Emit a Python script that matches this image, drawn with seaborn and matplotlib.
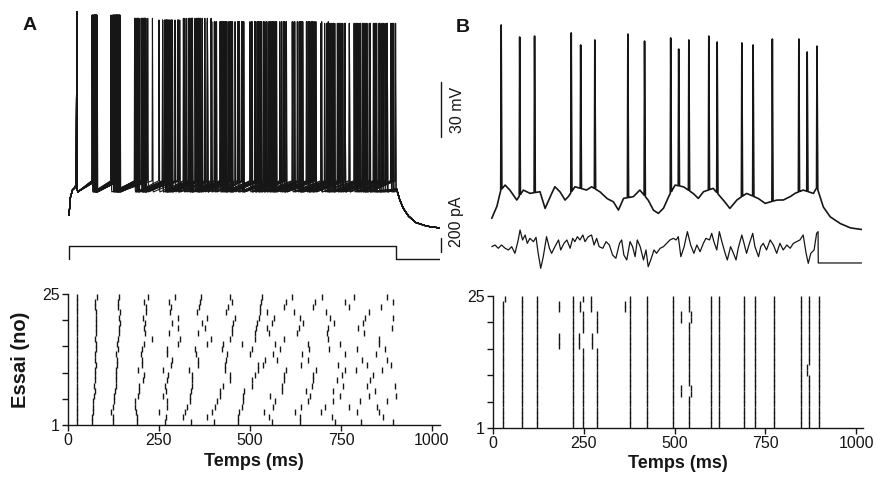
import numpy as np
import pandas as pd
import matplotlib
matplotlib.use("Agg")
import matplotlib.pyplot as plt
import seaborn as sns

sns.set_theme(style="ticks")
plt.rcParams["font.family"] = ["Liberation Sans", "DejaVu Sans"]

INK = "#161616"

# ---------------------------------------------------------------- data
# Panel A: constant current step, 25 trials. Spike times (ms) of the
# early firing columns, one value per trial (trial 1 .. 25).
a_col1 = [24, 24, 24, 24, 24, 24, 24, 24, 24, 24, 24, 24, 24, 24, 24, 24, 24, 24, 24, 24, 24, 24, 24, 24, 24]
a_col2 = [67, 66, 68, 69, 70, 72, 73, 72, 74, 75, 74, 76, 73, 75, 77, 76, 74, 77, 78, 76, 77, 78, 75, 75, 80]
a_col3 = [123, 124, 118, 125, 127, 127, 128, 131, 132, 133, 131, 134, 135, 133, 136, 134, 137, 140, 141, 142, 139, 143, 137, 138, 141]
a_col4 = [189, 190, 186, 183, 185, 192, 195, 194, 205, 208, 192, 202, 204, 201, 203, 210, 232, 212, 210, 212, 207, 214, 213, 210, 219]
a_col5 = [266, 269, 250, 271, 272, 260, 269, 266, 272, 275, 260, 284, 285, 271, 272, 303, 307, 277, 301, 287, 303, 280, 283, 278, 294]
a_col6 = [338, 317, 321, 326, 335, 334, 339, 340, 341, 342, 332, 358, 357, 353, 349, 383, 393, 358, 376, 369, 383, 355, 361, 363, 365]
a_col7 = [402, 383, 395, 404, 408, 418, 418, 425, 445, 445, 431, 431, 434, 436, 422, 427, 446, 450, 450, 452, 459, 433, 440, 450, 445]
a_col8 = [466, 468, 471, 478, 481, 481, 483, 505, 505, 514, 523, 522, 541, 500, 505, 477, 513, 514, 516, 520, 524, 527, 528, 530, 532]

# Later spikes of each trial (trial 1 .. 25), where the columns dissolve
a_late = [
    [561, 638, 733, 804, 894],
    [553, 637, 724, 866],
    [538, 623, 695, 793, 855],
    [564, 641, 705, 773, 848],
    [569, 660, 729, 802, 877],
    [556, 665, 747, 828, 900],
    [587, 655, 728, 843],
    [587, 669, 755, 821, 899],
    [593, 673, 740, 830],
    [593, 673, 752, 839],
    [600, 681, 761, 791, 864],
    [537, 641, 742, 821, 887],
    [573, 660, 809, 876],
    [564, 644, 761, 846],
    [582, 663, 718, 795, 871],
    [569, 660, 747, 855],
    [594, 715, 855],
    [552, 630, 712, 813],
    [546, 635, 715, 798, 889],
    [560, 645, 730, 810],
    [566, 638, 721, 816, 893],
    [546, 621, 710, 828],
    [594, 672, 773, 860],
    [599, 678, 761, 892],
    [616, 697, 786, 877],
]

# Spike peak (mV) by order of the spike in a trial
a_peak_mv = [48.9, 47.1, 47.1, 45.3, 44.4, 45.3, 43.5, 43.5, 43.5, 43.5, 42.6, 42.6, 42.6, 43.5]
# Membrane potential at step onset and after the step (ms, mV)
a_onset_t = [3, 6, 12, 20]
a_onset_mv = [-61.0, -52.0, -47.5, -46.0]
a_decay_t = [903, 910, 920, 935, 955, 985, 1022]
a_decay_mv = [-47.0, -52.0, -57.0, -61.5, -65.0, -67.0, -68.0]
a_threshold_mv = -42.5
a_ahp_mv = -48.5

# Current step (ms, pA)
step_t = [3, 3, 900, 900, 1022]
step_pa = [0, 190, 190, 0, 0]

# Panel B: fluctuating current, 25 trials. Spike columns (ms)
b_spike_cols = [28, 79, 120, 221, 247, 286, 377, 423, 495, 541, 600, 623, 691, 722, 775, 848, 871, 898]
# Trials in which a column spike is displaced
b_shift_trial = [16, 17, 18, 16, 17, 18, 23, 24, 23, 24, 25, 25, 7, 8, 21, 22, 11, 12]
b_shift_from = [247, 247, 247, 286, 286, 286, 247, 247, 286, 286, 28, 286, 541, 541, 541, 541, 871, 871]
b_shift_to = [238, 238, 238, 272, 272, 272, 240, 240, 270, 270, 33, 270, 545, 545, 545, 545, 864, 864]
# Additional spikes (trial, ms)
b_extra_trial = [16, 17, 18, 23, 24, 23, 24, 7, 8, 21, 22]
b_extra_time = [182, 182, 182, 182, 182, 364, 364, 517, 517, 517, 517]

# Voltage trace shown for one trial of panel B
b_trace_trial = 22
b_peak_mv = [41.7, 35.2, 35.7, 37.4, 30.9, 33.6, 36.8, 33.0, 34.7, 28.7,
             33.6, 35.7, 32.5, 32.0, 30.9, 34.1, 34.1, 27.1, 30.3]
b_base_t = [2, 16, 27, 39, 52, 71, 89, 107, 135, 149, 163, 176, 190, 204, 213, 231,
            263, 277, 300, 319, 337, 351, 365, 392, 410, 433, 447, 461, 475, 489,
            507, 530, 557, 571, 585, 612, 640, 658, 677, 704, 736, 755, 787, 805,
            824, 837, 860, 888, 898, 915, 934, 961, 989, 1021]
b_base_mv = [-62.8, -56.5, -47.5, -44.8, -47.5, -52.9, -47.5, -49.3, -48.4, -57.4,
             -51.1, -45.7, -48.4, -52.9, -51.1, -45.7, -47.5, -45.7, -48.4, -52.0,
             -53.8, -58.3, -52.0, -51.1, -47.5, -52.9, -58.3, -60.1, -57.4, -51.1,
             -44.8, -45.7, -49.3, -52.0, -48.4, -46.6, -52.9, -57.4, -52.9, -49.3,
             -52.0, -54.7, -52.9, -52.9, -51.1, -49.3, -47.5, -49.3, -46.0, -56.5,
             -61.9, -65.5, -67.9, -68.8]

# Injected fluctuating current (ms, pA)
b_noise_t = [2, 11, 20, 29, 39, 48, 57, 66, 75, 80, 87, 94, 100, 107, 117, 124, 130,
             137, 144, 153, 161, 167, 176, 186, 192, 201, 209, 218, 225, 231, 238,
             245, 253, 259, 268, 277, 284, 291, 298, 308, 317, 326, 335, 344, 354,
             360, 366, 374, 383, 390, 397, 403, 411, 420, 427, 433, 440, 449, 456,
             466, 475, 484, 493, 502, 510, 516, 523, 532, 541, 550, 559, 567, 576,
             585, 592, 602, 608, 614, 622, 629, 636, 645, 651, 660, 668, 675, 681,
             691, 697, 704, 712, 721, 727, 737, 743, 750, 759, 769, 778, 787, 796,
             805, 815, 824, 833, 842, 851, 860, 868, 874, 881, 890, 897, 901, 901.5, 1021]
b_noise_pa = [233, 257, 210, 257, 210, 186, 233, 138, 329, 472, 329, 400, 281, 352, 305,
              367, 138, -76, 90, 376, 210, 138, 233, 329, 186, 281, 329, 210, 352, 305,
              376, 329, 400, 305, 376, 400, 257, 352, 233, 210, 305, 257, 114, 67, 281,
              329, 114, 43, 305, 233, 90, 329, 233, 43, 186, -53, 43, 186, 138, 210,
              233, 281, 329, 352, 329, 376, 90, 233, 448, 257, 138, 257, 162, 281, 352,
              329, 424, 305, 186, 448, 305, 138, 43, 233, 138, 43, 210, 400, 281, 138,
              281, 424, 233, 90, 233, 281, 186, 329, 257, 138, 281, 186, 257, 210, 281,
              305, 329, 400, 138, -5, 138, 186, 424, 448, 0, 0]

N_TRIALS = 25
X_TICKS = [0, 250, 500, 750, 1000]


# ---------------------------------------------------------------- helpers
def rect(left, top, right, bottom, W=877, H=483):
    return [left / W, 1 - bottom / H, (right - left) / W, (bottom - top) / H]


def add_spikes(t, base, spikes, peaks, rise=1.0, fall=1.5):
    out = base.copy()
    for s, p in zip(spikes, peaks):
        dt = t - s
        rel = np.where(dt < 0, -dt / rise, dt / fall)
        tent = base + (p - base) * np.clip(1 - rel, 0, None)
        out = np.maximum(out, tent)
    return out


def row_center(trial):
    # trial rows stacked between 1 and 25 on the y axis
    return 1 + (np.asarray(trial) - 0.5) * (24 / N_TRIALS)


# spike trains, panel A
early_cols = [a_col1, a_col2, a_col3, a_col4, a_col5, a_col6, a_col7, a_col8]
trains_a = [sorted([c[k] for c in early_cols] + a_late[k]) for k in range(N_TRIALS)]

# spike trains, panel B
trains_b = []
for k in range(1, N_TRIALS + 1):
    spikes = list(b_spike_cols)
    for tr, a, b in zip(b_shift_trial, b_shift_from, b_shift_to):
        if tr == k:
            spikes[spikes.index(a)] = b
    spikes += [e for tr, e in zip(b_extra_trial, b_extra_time) if tr == k]
    trains_b.append(sorted(spikes))

# ---------------------------------------------------------------- figure
fig = plt.figure(figsize=(8.77, 4.83), dpi=100)
fig.patch.set_facecolor("white")

ax_va = fig.add_axes(rect(68, 5, 440, 233))
ax_ia = fig.add_axes(rect(68, 228, 440, 272))
ax_vb = fig.add_axes(rect(491, 5, 862, 233))
ax_ib = fig.add_axes(rect(491, 228, 862, 272))
ax_ra = fig.add_axes(rect(68, 294, 440, 425))
ax_rb = fig.add_axes(rect(493, 296, 863, 428))

# --- A: 25 superimposed voltage traces
t_grid = np.arange(3, 1022.01, 0.25)
rows = []
for k, spikes in enumerate(trains_a):
    kt = list(a_onset_t)
    kv = list(a_onset_mv)
    for s in spikes:
        kt += [s - 1.0, s + 2.5]
        kv += [a_threshold_mv, a_ahp_mv]
    kt += a_decay_t
    kv += a_decay_mv
    order = np.argsort(kt, kind="stable")
    base = np.interp(t_grid, np.array(kt)[order], np.array(kv)[order])
    peaks = [a_peak_mv[min(i, len(a_peak_mv) - 1)] for i in range(len(spikes))]
    v = add_spikes(t_grid, base, spikes, peaks)
    rows.append(pd.DataFrame({"t": t_grid, "v": v, "trial": k + 1}))
df_va = pd.concat(rows, ignore_index=True)
sns.lineplot(data=df_va, x="t", y="v", units="trial", estimator=None, sort=False,
             color=INK, linewidth=0.8, ax=ax_va, legend=False)
ax_va.set_xlim(0, 1022)
ax_va.set_ylim(-70.7, 52.5)

# --- A: current step
sns.lineplot(x=step_t, y=step_pa, estimator=None, sort=False, color=INK,
             linewidth=1.0, ax=ax_ia)
ax_ia.set_xlim(0, 1022)
ax_ia.set_ylim(-186, 443)

# --- B: voltage trace of one trial
tb = np.arange(2, 1021.01, 0.25)
base_b = np.interp(tb, b_base_t, b_base_mv)
vb = add_spikes(tb, base_b, trains_b[b_trace_trial - 1], b_peak_mv, rise=1.2, fall=2.0)
sns.lineplot(x=tb, y=vb, estimator=None, sort=False, color=INK, linewidth=1.2, ax=ax_vb)
ax_vb.set_xlim(0, 1022)
ax_vb.set_ylim(-70.7, 52.5)

# --- B: fluctuating current
sns.lineplot(x=b_noise_t, y=b_noise_pa, estimator=None, sort=False, color=INK,
             linewidth=0.9, ax=ax_ib)
ax_ib.set_xlim(0, 1022)
ax_ib.set_ylim(-129, 500)

for ax in (ax_va, ax_ia, ax_vb, ax_ib):
    ax.set_axis_off()
    ax.patch.set_alpha(0)

# --- scale bars (30 mV, 200 pA)
x_bar = -137.7
ax_vb.plot([x_bar, x_bar], [-19, 11], color=INK, lw=1.0, clip_on=False)
ax_ib.plot([x_bar, x_bar], [157, 357], color=INK, lw=1.0, clip_on=False)

# --- rasters
def raster(ax, trains, xmax):
    df = pd.DataFrame([(s, row_center(k + 1)) for k, tr in enumerate(trains) for s in tr],
                      columns=["t", "row"])
    sns.scatterplot(data=df, x="t", y="row", marker="|", s=15, linewidth=1.0,
                    color=INK, ax=ax, legend=False, clip_on=False)
    ax.set_xlim(0, xmax)
    ax.set_ylim(1, 25)
    ax.set_xticks(X_TICKS)
    ax.set_xticklabels([str(x) for x in X_TICKS])
    ax.set_yticks(np.linspace(1, 25, 6))
    ax.set_yticklabels(["1", "", "", "", "", "25"])
    for side in ("top", "right"):
        ax.spines[side].set_visible(False)
    for side in ("left", "bottom"):
        ax.spines[side].set_color(INK)
        ax.spines[side].set_linewidth(1.0)
    ax.tick_params(axis="both", direction="out", length=4, width=1.0, colors=INK,
                   labelsize=11.5, pad=2, bottom=True, left=True)
    ax.set_xlabel("Temps (ms)", fontsize=13, fontweight="bold", color=INK, labelpad=3)
    ax.set_ylabel("")
    ax.patch.set_alpha(0)


raster(ax_ra, trains_a, 1022)
raster(ax_rb, trains_b, 1019)
ax_ra.set_ylabel("Essai (no)", fontsize=14.5, fontweight="bold", color=INK, labelpad=9)

# --- panel letters and scale-bar labels
ov = fig.add_axes([0, 0, 1, 1])
ov.set_xlim(0, 877)
ov.set_ylim(483, 0)
ov.set_axis_off()
ov.patch.set_alpha(0)
ov.text(30, 26, "A", fontsize=14, fontweight="bold", ha="center", va="center", color=INK)
ov.text(463, 27, "B", fontsize=14, fontweight="bold", ha="center", va="center", color=INK)
ov.text(457, 110, "30 mV", fontsize=11.5, rotation=90, ha="center", va="center", color=INK)
ov.text(457, 222, "200 pA", fontsize=11.5, rotation=90, ha="center", va="center", color=INK)

fig.savefig("out.png", dpi=100, facecolor="white")
